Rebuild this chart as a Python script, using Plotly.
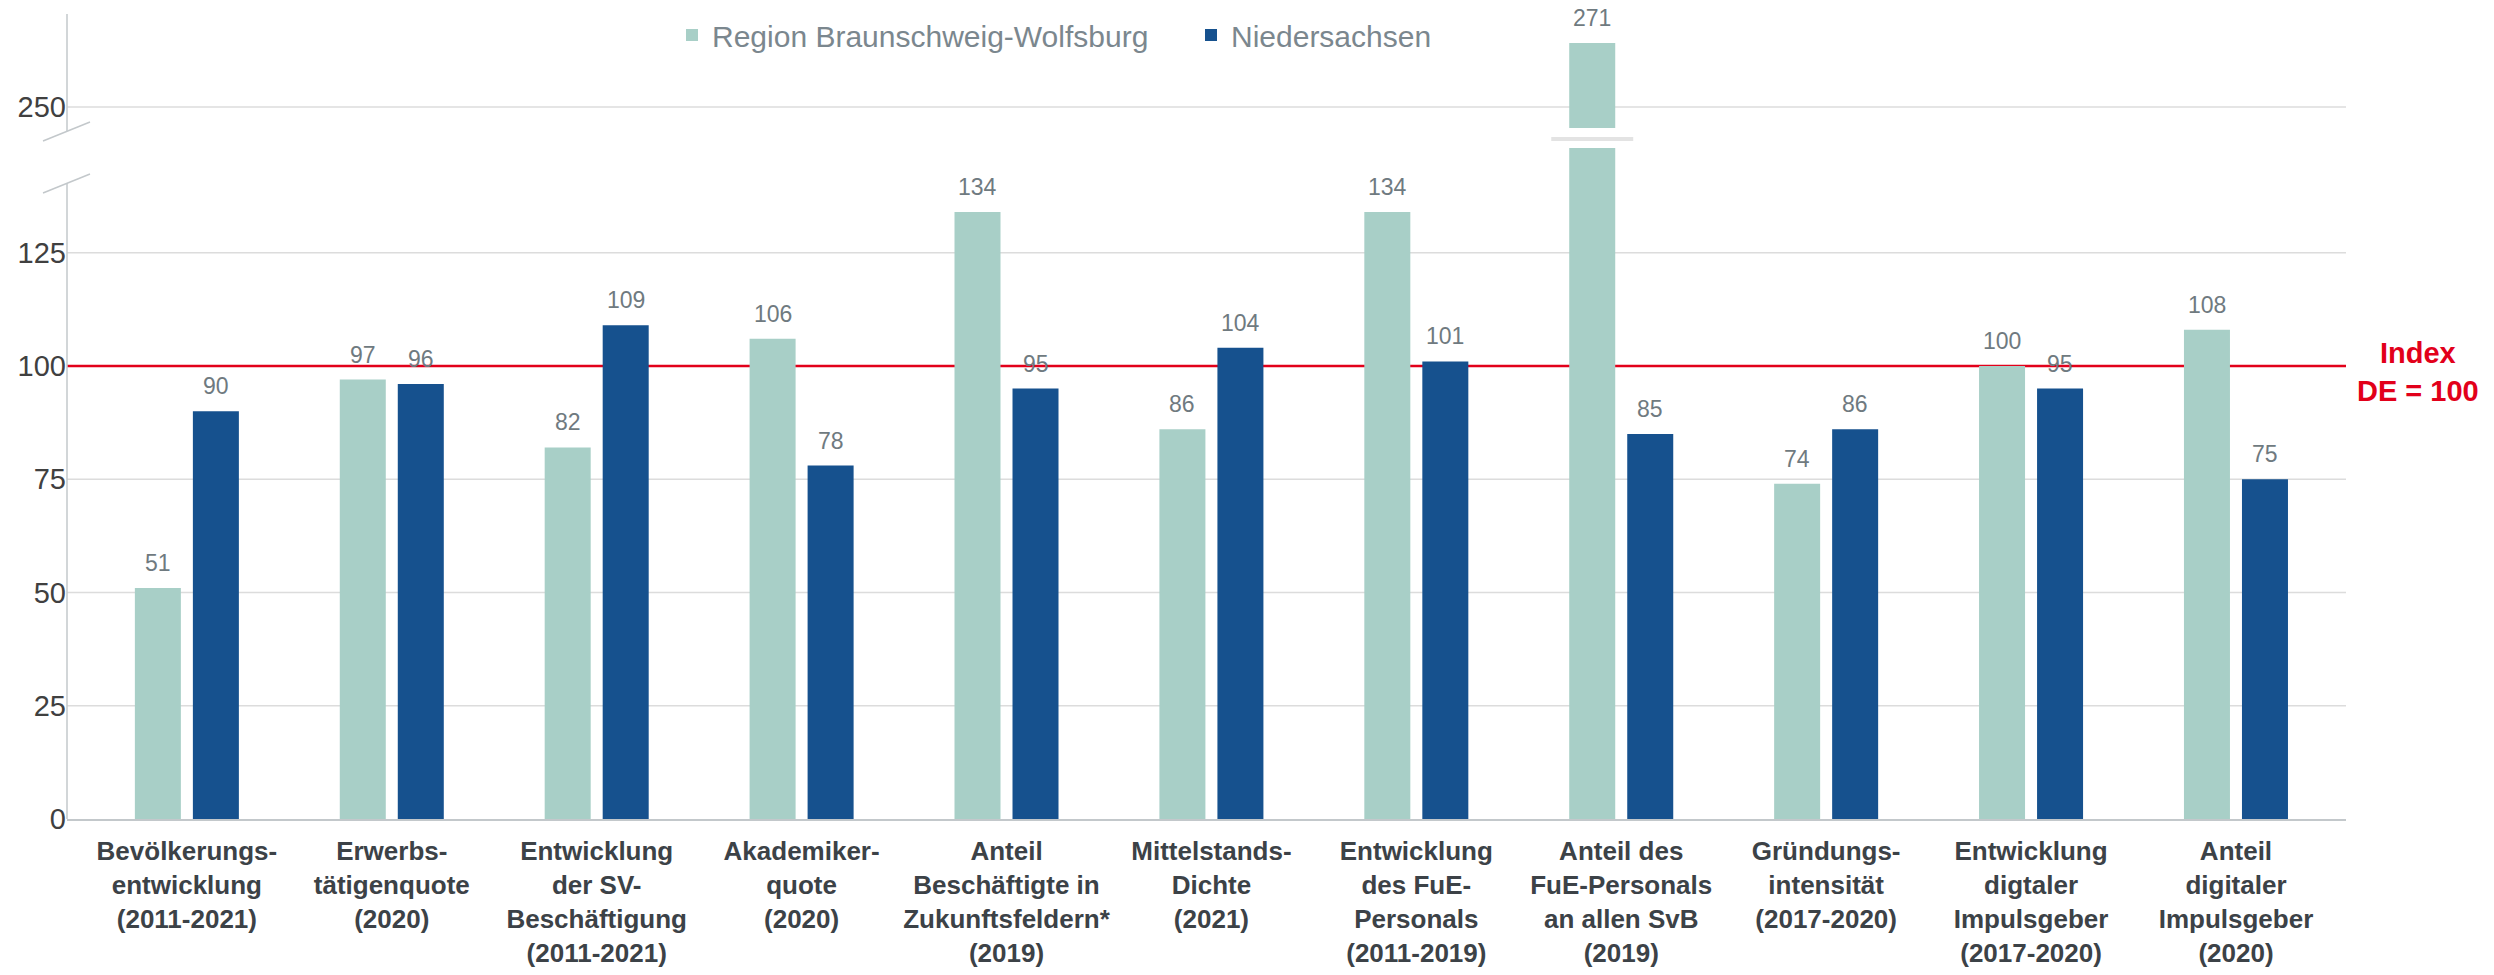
import plotly.graph_objects as go

# ---------------- data ----------------
categories = [
    "Bevölkerungs-<br>entwicklung<br>(2011-2021)",
    "Erwerbs-<br>tätigenquote<br>(2020)",
    "Entwicklung<br>der SV-<br>Beschäftigung<br>(2011-2021)",
    "Akademiker-<br>quote<br>(2020)",
    "Anteil<br>Beschäftigte in<br>Zukunftsfeldern*<br>(2019)",
    "Mittelstands-<br>Dichte<br>(2021)",
    "Entwicklung<br>des FuE-<br>Personals<br>(2011-2019)",
    "Anteil des<br>FuE-Personals<br>an allen SvB<br>(2019)",
    "Gründungs-<br>intensität<br>(2017-2020)",
    "Entwicklung<br>digtaler<br>Impulsgeber<br>(2017-2020)",
    "Anteil<br>digitaler<br>Impulsgeber<br>(2020)",
]
region_values = [51, 97, 82, 106, 134, 86, 134, 271, 74, 100, 108]
nds_values = [90, 96, 109, 78, 95, 104, 101, 85, 86, 95, 75]
series_names = ["Region Braunschweig-Wolfsburg", "Niedersachsen"]
lower_ticks = [0, 25, 50, 75, 100, 125]
upper_ticks = [250]
index_value = 100
index_label = "Index<br>DE = 100"

# ---------------- styling / layout ----------------
W, H = 2494, 975
ML, MR, MT, MB = 67, 148, 0, 156
PLOT_H = H - MT - MB  # 819
PLOT_W = W - ML - MR


def py(p):
    """pixel row -> paper fraction"""
    return (PLOT_H - p) / PLOT_H


def px(p):
    """pixel column -> paper fraction"""
    return (p - ML) / PLOT_W


C_REGION = "#a8cfc7"
C_NDS = "#16518e"
C_LABEL = "#6f7a80"
C_GRID = "#dcdcdc"
C_AXIS = "#c3c8cb"
C_RED = "#e2001a"
FONT = "Liberation Sans, Arial, sans-serif"

BW = 0.2245      # bar width (category units)
BG = 0.0586      # gap between the two bars
OFF_R = -(BW + BG / 2)
OFF_N = BG / 2

LOWER_RANGE = [0, 148.1]
LOWER_DOMAIN = [0, py(148)]
UPPER_RANGE = [243.1, 280.5]
UPPER_DOMAIN = [py(128), py(14)]

fig = go.Figure()

# lower subplot bars
fig.add_trace(go.Bar(x=categories, y=region_values, name=series_names[0],
                     marker=dict(color=C_REGION, line=dict(width=0)),
                     width=BW, offset=OFF_R, xaxis="x", yaxis="y"))
fig.add_trace(go.Bar(x=categories, y=nds_values, name=series_names[1],
                     marker=dict(color=C_NDS, line=dict(width=0)),
                     width=BW, offset=OFF_N, xaxis="x", yaxis="y"))
# upper (broken-axis) subplot bars
fig.add_trace(go.Bar(x=categories, y=region_values, name=series_names[0],
                     marker=dict(color=C_REGION, line=dict(width=0)),
                     width=BW, offset=OFF_R, xaxis="x", yaxis="y2",
                     showlegend=False))
fig.add_trace(go.Bar(x=categories, y=nds_values, name=series_names[1],
                     marker=dict(color=C_NDS, line=dict(width=0)),
                     width=BW, offset=OFF_N, xaxis="x", yaxis="y2",
                     showlegend=False))

annotations = []
for i, (r, n) in enumerate(zip(region_values, nds_values)):
    for v, off in ((r, OFF_R), (n, OFF_N)):
        annotations.append(dict(
            x=i + off + BW / 2, y=v, xref="x",
            yref="y" if v <= LOWER_RANGE[1] else "y2",
            text=str(v), showarrow=False, yanchor="bottom", yshift=10,
            font=dict(family=FONT, size=23, color=C_LABEL)))

annotations.append(dict(
    x=px(2418), y=py(372), xref="paper", yref="paper", text=index_label,
    showarrow=False, xanchor="center", yanchor="middle",
    font=dict(family=FONT, size=29, color=C_RED, weight="bold")))

shapes = []
# gridlines (drawn as shapes so the index line can sit on top of them)
for t in lower_ticks[1:]:
    shapes.append(dict(type="line", xref="paper", yref="y", x0=0, x1=1,
                       y0=t, y1=t, line=dict(color=C_GRID, width=1.5),
                       layer="between"))
for t in upper_ticks:
    shapes.append(dict(type="line", xref="paper", yref="y2", x0=0, x1=1,
                       y0=t, y1=t, line=dict(color=C_GRID, width=1.5),
                       layer="between"))
# index line
shapes.append(dict(type="line", xref="paper", yref="y", x0=0, x1=1,
                   y0=index_value, y1=index_value,
                   line=dict(color=C_RED, width=2.5), layer="between"))
# broken y axis lines
shapes.append(dict(type="line", xref="paper", yref="paper", x0=0, x1=0,
                   y0=0, y1=py(183), line=dict(color=C_AXIS, width=1.5)))
shapes.append(dict(type="line", xref="paper", yref="paper", x0=0, x1=0,
                   y0=py(131), y1=py(14), line=dict(color=C_AXIS, width=1.5)))
# break marks
for ya, yb in ((141, 122), (193, 174)):
    shapes.append(dict(type="line", xref="paper", yref="paper",
                       x0=px(43), x1=px(90), y0=py(ya), y1=py(yb),
                       line=dict(color=C_AXIS, width=1.5)))
# break separator on the broken bar
big_i = region_values.index(max(region_values))
cx = big_i + OFF_R + BW / 2
shapes.append(dict(type="line", xref="x", yref="paper",
                   x0=cx - 0.2, x1=cx + 0.2, y0=py(139), y1=py(139),
                   line=dict(color="#e3e3e3", width=4)))

fig.update_layout(
    width=W, height=H,
    margin=dict(l=ML, r=MR, t=MT, b=MB, pad=0, autoexpand=False),
    paper_bgcolor="white", plot_bgcolor="white",
    barmode="group",
    font=dict(family=FONT),
    showlegend=True,
    legend=dict(orientation="h", x=px(672), y=py(35), xanchor="left",
                yanchor="middle", bgcolor="rgba(0,0,0,0)",
                font=dict(family=FONT, size=30, color="#7b878e"),
                entrywidth=474, entrywidthmode="pixels"),
    xaxis=dict(type="category", range=[-0.585, 10.537], anchor="y",
               automargin=False,
               showline=True, linecolor=C_AXIS, linewidth=2,
               showgrid=False, ticks="", ticklabelstandoff=8,
               tickfont=dict(family=FONT, size=26, color="#3c4247",
                             weight="bold")),
    yaxis=dict(domain=LOWER_DOMAIN, range=LOWER_RANGE, tickvals=lower_ticks,
               automargin=False,
               showline=False, showgrid=False, zeroline=False, ticks="",
               tickfont=dict(family=FONT, size=29, color="#404040")),
    yaxis2=dict(domain=UPPER_DOMAIN, range=UPPER_RANGE, tickvals=upper_ticks,
                anchor="x", automargin=False,
                showline=False, showgrid=False, zeroline=False, ticks="",
                tickfont=dict(family=FONT, size=29, color="#404040")),
    annotations=annotations,
    shapes=shapes,
)

fig.write_html(
    "out.html",
    config={"displayModeBar": False},
    post_script="document.body.style.margin='0px';"
                "document.body.style.overflow='hidden';",
)
